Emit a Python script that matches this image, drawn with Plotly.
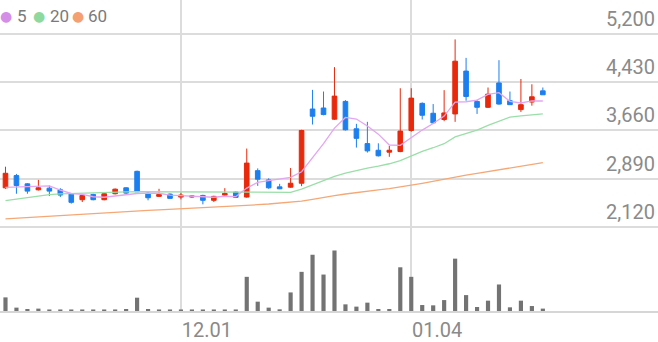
import plotly.graph_objects as go

# ---------------- data ----------------
idx = list(range(50))
opens = [2744, 2939, 2807, 2712, 2738, 2712, 2649, 2554, 2638, 2554,
         2649, 2744, 3007, 2659, 2607, 2643, 2596, 2596, 2622, 2544,
         2628, 2675, 2596, 3018, 2870, 2759, 2754, 2817, 4003, 4019,
         3840, 4124, 3687, 3450, 3344, 3313, 3323, 3660, 4093, 3935,
         3835, 3924, 4609, 4124, 4030, 4419, 4135, 3993, 4114, 4293]
highs = [3081, 2965, 2817, 2870, 2780, 2738, 2659, 2633, 2649, 2675,
         2733, 2754, 3018, 2675, 2728, 2654, 2665, 2622, 2633, 2617,
         2738, 2686, 3371, 3054, 2896, 2807, 3060, 3671, 4309, 4282,
         4672, 4145, 3766, 3798, 3455, 3413, 4335, 4335, 4109, 4082,
         4304, 5115, 4820, 4151, 4346, 4783, 4282, 4483, 4398, 4346]
lows = [2728, 2649, 2649, 2701, 2612, 2596, 2491, 2517, 2544, 2544,
        2638, 2638, 2675, 2544, 2596, 2570, 2559, 2586, 2480, 2517,
        2612, 2580, 2586, 2775, 2728, 2723, 2744, 2770, 3755, 3903,
        3829, 3660, 3387, 3307, 3244, 3239, 3313, 3640, 3835, 3771,
        3808, 3798, 4135, 3924, 4019, 4072, 4072, 3956, 4056, 4230]
closes = [2976, 2780, 2691, 2744, 2691, 2628, 2512, 2622, 2554, 2649,
          2722, 2659, 2680, 2585, 2638, 2575, 2628, 2612, 2544, 2607,
          2654, 2591, 3139, 2881, 2744, 2728, 2817, 3660, 3887, 3914,
          4209, 3671, 3534, 3334, 3255, 3344, 3650, 4177, 3903, 3782,
          3940, 4767, 4203, 4030, 4240, 4082, 4072, 4072, 4198, 4230]
volumes = [137000, 34000, 20000, 24000, 10000, 8000, 10000, 8000, 8000, 8000,
           10000, 20000, 134000, 20000, 8000, 8000, 8000, 15000, 10000, 10000,
           8000, 10000, 344000, 94000, 34000, 17000, 187000, 394000, 567000, 367000,
           610000, 67000, 44000, 84000, 20000, 20000, 440000, 344000, 60000, 57000,
           110000, 527000, 160000, 40000, 104000, 267000, 37000, 104000, 50000, 24000]
ma5 = [2750, 2755, 2762, 2772, 2776, 2707, 2653, 2639, 2601, 2593,
       2612, 2641, 2653, 2659, 2657, 2627, 2621, 2608, 2599, 2593,
       2609, 2602, 2740, 2830, 2860, 2880, 2910, 3000, 3220, 3450,
       3697, 3868, 3843, 3732, 3601, 3428, 3423, 3552, 3666, 3771,
       3890, 4114, 4119, 4144, 4236, 4264, 4125, 4099, 4133, 4131]
ma20 = [2539, 2565, 2590, 2612, 2635, 2648, 2655, 2662, 2668, 2672,
        2676, 2679, 2681, 2680, 2679, 2677, 2676, 2674, 2672, 2670,
        2668, 2667, 2672, 2672, 2672, 2672, 2672, 2724, 2791, 2854,
        2928, 2979, 3022, 3059, 3090, 3128, 3179, 3257, 3325, 3384,
        3448, 3557, 3610, 3667, 3742, 3810, 3873, 3894, 3910, 3926]
ma60 = [2249, 2260, 2271, 2282, 2293, 2304, 2315, 2326, 2337, 2348,
        2358, 2366, 2374, 2382, 2390, 2398, 2406, 2414, 2422, 2430,
        2440, 2450, 2463, 2474, 2485, 2496, 2508, 2530, 2558, 2595,
        2620, 2645, 2670, 2692, 2712, 2732, 2755, 2785, 2815, 2850,
        2880, 2915, 2945, 2975, 3005, 3035, 3065, 3090, 3118, 3145]
price_ticks = [2120, 2890, 3660, 4430, 5200]
price_tick_text = ["2,120", "2,890", "3,660", "4,430", "5,200"]
date_tick_idx = [16, 37]
date_tick_text = ["12.01", "01.04"]
ma_names = ["5", "20", "60"]

# ---------------- style ----------------
UP = "#e8290b"
DOWN = "#1b7ff0"
MA_COLORS = ["#e3a6f2", "#9adfa8", "#f5a877"]
LEGEND_DOTS = ["#d48ee8", "#8ed99e", "#f4a070"]
GRID = "#dcdcdc"
TXT = "#8a8a8a"

fig = go.Figure()
for vals, col in zip([ma60, ma20, ma5], MA_COLORS[::-1]):
    fig.add_trace(go.Scatter(x=idx, y=vals, mode="lines",
                             line=dict(color=col, width=1.3),
                             xaxis="x", yaxis="y", hoverinfo="skip"))

fig.add_trace(go.Candlestick(
    x=idx, open=opens, high=highs, low=lows, close=closes,
    increasing=dict(line=dict(color=UP, width=1), fillcolor=UP),
    decreasing=dict(line=dict(color=DOWN, width=1), fillcolor=DOWN),
    whiskerwidth=0, xaxis="x", yaxis="y"))

fig.add_trace(go.Bar(x=idx, y=volumes, marker=dict(color="#737373", line=dict(width=0)),
                     xaxis="x2", yaxis="y2"))

split = 0.2268
fig.update_layout(
    width=658, height=342,
    margin=dict(l=0, r=0, t=0, b=29),
    paper_bgcolor="white", plot_bgcolor="white",
    showlegend=False,
    bargap=0.62, boxgap=0.4,
    font=dict(family="Roboto", color=TXT),
    xaxis=dict(domain=[0, 1], range=[-0.5, 59.5], anchor="y",
               tickvals=date_tick_idx, showticklabels=False, ticks="",
               showgrid=True, gridcolor=GRID, gridwidth=1.5, zeroline=False,
               rangeslider=dict(visible=False)),
    xaxis2=dict(domain=[0, 1], range=[-0.5, 59.5], anchor="y2", matches="x",
                tickvals=date_tick_idx, ticktext=date_tick_text, ticks="",
                ticklabelposition="outside right",
                showgrid=True, gridcolor=GRID, gridwidth=1.5, zeroline=False,
                showline=True, linecolor="#d6d6d6", linewidth=1.5,
                tickfont=dict(family="Roboto", size=20, color=TXT)),
    yaxis=dict(domain=[split, 1], range=[1902.5, 5744.5], side="right",
               tickvals=price_ticks, ticktext=price_tick_text,
               ticklabelposition="inside", ticklabelshift=-15, ticks="",
               showgrid=True, gridcolor=GRID, gridwidth=1.5, zeroline=False,
               tickfont=dict(family="Roboto", size=20, color=TXT)),
    yaxis2=dict(domain=[0, split], range=[0, 710000], showgrid=False,
                showticklabels=False, zeroline=False, ticks=""),
)

# legend: coloured dot + label for each moving average
dot_x = [6, 39, 78]
lab_x = [16, 49, 87]
for c, n, dx, lx in zip(LEGEND_DOTS, ma_names, dot_x, lab_x):
    fig.add_annotation(x=0, y=1, xref="paper", yref="paper", xanchor="center", yanchor="middle",
                       text="●", showarrow=False, xshift=dx, yshift=-16,
                       font=dict(family="DejaVu Sans", size=14, color=c))
    fig.add_annotation(x=0, y=1, xref="paper", yref="paper", xanchor="left", yanchor="middle",
                       text=n, showarrow=False, xshift=lx - 1, yshift=-16,
                       font=dict(family="Roboto", size=17, color="#7a7a7a"))

fig.write_html("out.html")
